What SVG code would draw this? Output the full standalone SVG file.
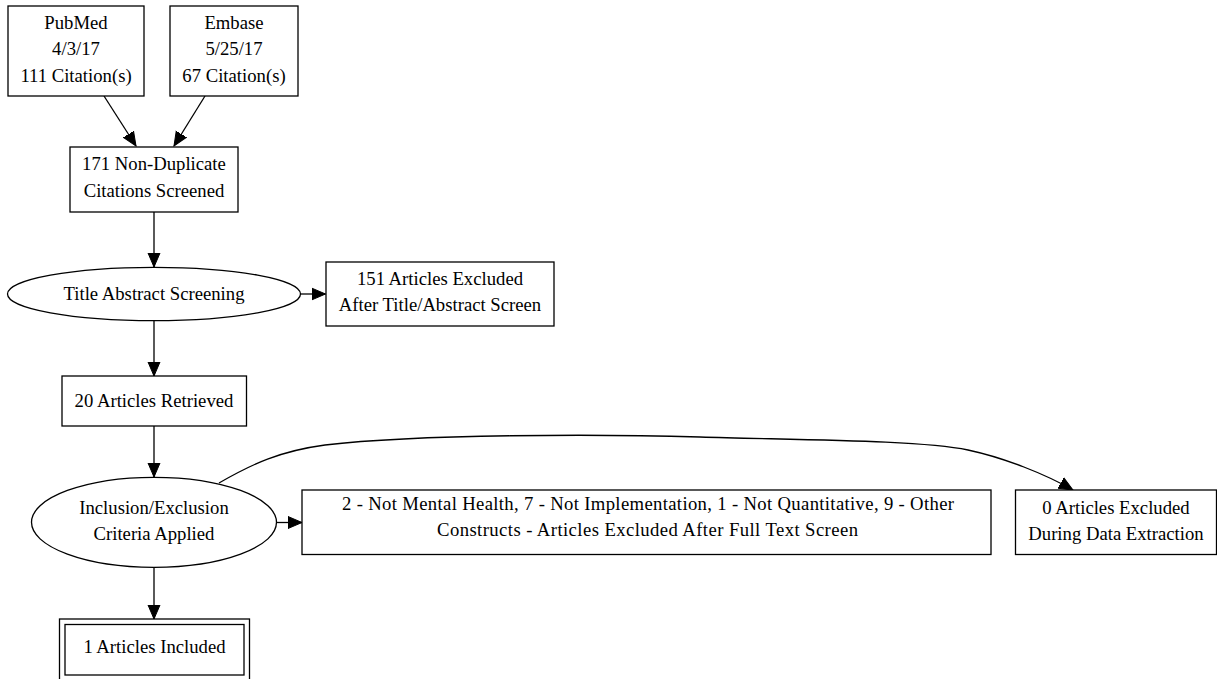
<svg xmlns="http://www.w3.org/2000/svg" width="1217" height="679" viewBox="0 0 1217 679">
<style>
.n{fill:#fff;stroke:#000;stroke-width:1.3}
.t{font-family:"Liberation Serif","Times New Roman",serif;font-size:18.7px;fill:#000;text-anchor:middle}
.e{fill:none;stroke:#000;stroke-width:1.3}
</style>
<defs>
<marker id="ah" markerUnits="userSpaceOnUse" markerWidth="15" markerHeight="14" refX="14" refY="7" orient="auto">
<path d="M0,1 L14,7 L0,13 z" fill="#000" stroke="#000" stroke-width="1"/>
</marker>
</defs>
<rect width="1217" height="679" fill="#fff"/>
<g id="connectors">
<path class="e" d="M104,96 L136,146" marker-end="url(#ah)"/>
<path class="e" d="M205,96 L174,146" marker-end="url(#ah)"/>
<path class="e" d="M154,212 L154,267" marker-end="url(#ah)"/>
<path class="e" d="M300.5,294 L325.5,294" marker-end="url(#ah)"/>
<path class="e" d="M154,321 L154,376" marker-end="url(#ah)"/>
<path class="e" d="M154,426 L154,477" marker-end="url(#ah)"/>
<path class="e" d="M276.5,522.5 L302,522.5" marker-end="url(#ah)"/>
<path class="e" d="M154,567 L154,619" marker-end="url(#ah)"/>
<path class="e" d="M219,483 C252,464 280,451 325,445 C420,434 600,434 700,437 C800,440 920,440 968,450 C1005,458 1045,474 1073,490" marker-end="url(#ah)"/>
</g>
<g id="pubmed">
<rect class="n" x="8" y="6" width="136" height="90"/>
<text class="t" x="76" y="29">PubMed</text>
<text class="t" x="76" y="55">4/3/17</text>
<text class="t" x="76" y="82">111 Citation(s)</text>
</g>
<g id="embase">
<rect class="n" x="170" y="6" width="128" height="90"/>
<text class="t" x="234" y="29">Embase</text>
<text class="t" x="234" y="55">5/25/17</text>
<text class="t" x="234" y="82">67 Citation(s)</text>
</g>
<g id="nondup">
<rect class="n" x="70" y="147" width="168" height="65"/>
<text class="t" x="154" y="170">171 Non-Duplicate</text>
<text class="t" x="154" y="197">Citations Screened</text>
</g>
<g id="title_screen">
<ellipse class="n" cx="154" cy="294" rx="146.5" ry="26.7"/>
<text class="t" x="154" y="299.5">Title Abstract Screening</text>
</g>
<g id="excl151">
<rect class="n" x="326" y="262" width="228" height="64"/>
<text class="t" x="440" y="284.5">151 Articles Excluded</text>
<text class="t" x="440" y="311">After Title/Abstract Screen</text>
</g>
<g id="retrieved">
<rect class="n" x="62" y="376" width="184.5" height="50"/>
<text class="t" x="154" y="406.5">20 Articles Retrieved</text>
</g>
<g id="criteria">
<ellipse class="n" cx="154" cy="522.3" rx="122.5" ry="45"/>
<text class="t" x="154" y="513.5">Inclusion/Exclusion</text>
<text class="t" x="154" y="539.5">Criteria Applied</text>
</g>
<g id="fulltext">
<rect class="n" x="302" y="490" width="689" height="64.5"/>
<text class="t" x="648" y="510" textLength="612" lengthAdjust="spacing">2 - Not Mental Health, 7 - Not Implementation, 1 - Not Quantitative, 9 - Other</text>
<text class="t" x="647.5" y="536" textLength="421" lengthAdjust="spacing">Constructs - Articles Excluded After Full Text Screen</text>
</g>
<g id="extraction">
<rect class="n" x="1015.5" y="490" width="201" height="64.5"/>
<text class="t" x="1116" y="513.5">0 Articles Excluded</text>
<text class="t" x="1116" y="539.5">During Data Extraction</text>
</g>
<g id="included">
<rect class="n" x="59.5" y="619" width="190" height="66"/>
<rect class="n" x="65" y="624.5" width="179" height="50.5"/>
<text class="t" x="154.5" y="653">1 Articles Included</text>
</g>
</svg>
